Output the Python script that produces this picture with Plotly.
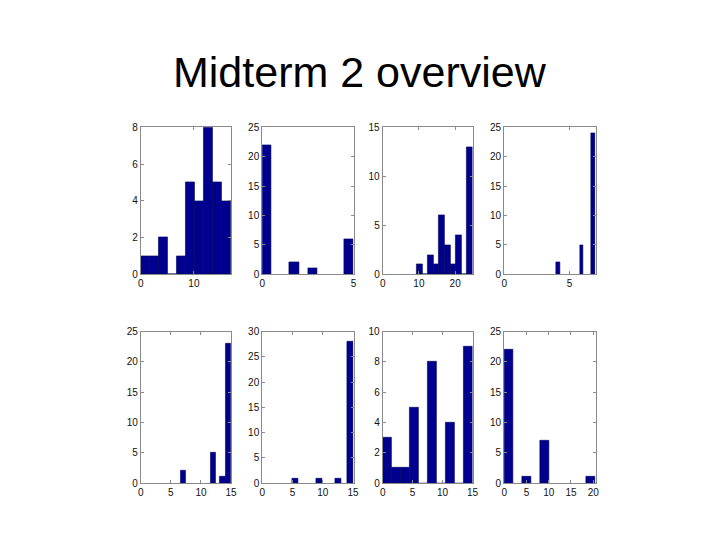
import plotly.graph_objects as go

TITLE = "Midterm 2 overview"

# --- histogram data (bin centres / counts / bin width) ---
p1_centers = [0.85, 2.55, 4.25, 5.95, 7.65, 9.35, 11.05, 12.75, 14.45, 16.15]
p1_counts = [1, 1, 2, 0, 1, 5, 4, 8, 5, 4]
p1_width = 1.7

p2_centers = [0.25, 1.75, 2.75, 4.75]
p2_counts = [22, 2, 1, 6]
p2_width = 0.5

p3_centers = [10.17, 11.71, 13.25, 14.79, 16.33, 17.87, 19.41, 20.95, 22.49, 24.03]
p3_counts = [1, 0, 2, 1, 6, 3, 1, 4, 0, 13]
p3_width = 1.54

p4_centers = [4.12, 5.95, 6.84]
p4_counts = [2, 5, 24]
p4_width = 0.28

p5_centers = [7.1, 12.0, 13.6, 14.5]
p5_counts = [2, 5, 1, 23]
p5_width = 0.9

p6_centers = [5.4, 9.5, 12.5, 14.55]
p6_counts = [1, 1, 1, 28]
p6_width = 1.0

p7_centers = [0.75, 2.25, 3.75, 5.25, 6.75, 8.25, 9.75, 11.25, 12.75, 14.25]
p7_counts = [3, 1, 1, 5, 0, 8, 0, 4, 0, 9]
p7_width = 1.5

p8_centers = [1.05, 5.0, 9.15, 19.45]
p8_counts = [22, 1, 7, 1]
p8_width = 2.05

# axis limits and ticks per panel
x_ranges = [[0, 17], [0, 5], [0, 24.8], [0, 7], [0, 15], [0, 15.1], [0, 15], [0, 20.5]]
x_ticks = [[0, 10], [0, 5], [0, 10, 20], [0, 5], [0, 5, 10, 15], [0, 5, 10, 15], [0, 5, 10, 15], [0, 5, 10, 15, 20]]
y_ranges = [[0, 8], [0, 25], [0, 15], [0, 25], [0, 25], [0, 30], [0, 10], [0, 25]]
y_dticks = [2, 5, 5, 5, 5, 5, 2, 5]

panels = [
    (p1_centers, p1_counts, p1_width),
    (p2_centers, p2_counts, p2_width),
    (p3_centers, p3_counts, p3_width),
    (p4_centers, p4_counts, p4_width),
    (p5_centers, p5_counts, p5_width),
    (p6_centers, p6_counts, p6_width),
    (p7_centers, p7_counts, p7_width),
    (p8_centers, p8_counts, p8_width),
]

W, H = 720, 540
col_px = [(139.5, 231), (262.5, 355), (384.5, 475.5), (507.5, 600)]
row_px = [(124, 274.5), (333, 488)]

BAR = "#00008F"
AXIS = "#8a8a8a"
tick_font = dict(family="Liberation Sans, Arial, sans-serif", size=10, color="#111111")

fig = go.Figure()
for i, (cx, cnt, w) in enumerate(panels):
    n = i + 1
    sfx = "" if n == 1 else str(n)
    fig.add_trace(
        go.Bar(
            x=cx,
            y=cnt,
            width=w,
            marker=dict(color=BAR, line=dict(color="#000055", width=0.6)),
            xaxis="x" + sfx,
            yaxis="y" + sfx,
            showlegend=False,
            hoverinfo="skip",
        )
    )
    x0, x1 = col_px[i % 4]
    top, bot = row_px[i // 4]
    common = dict(
        showline=True,
        linecolor=AXIS,
        linewidth=1,
        mirror="ticks",
        ticks="inside",
        ticklen=3,
        tickcolor=AXIS,
        showgrid=False,
        zeroline=False,
        tickfont=tick_font,
        fixedrange=True,
    )
    fig.layout["xaxis" + sfx] = dict(
        domain=[x0 / W, x1 / W],
        range=x_ranges[i],
        tickvals=x_ticks[i],
        anchor="y" + sfx,
        **common,
    )
    fig.layout["yaxis" + sfx] = dict(
        domain=[1 - bot / H, 1 - top / H],
        range=y_ranges[i],
        dtick=y_dticks[i],
        tick0=0,
        anchor="x" + sfx,
        **common,
    )

fig.add_annotation(
    text=TITLE,
    xref="paper",
    yref="paper",
    x=362 / W,
    y=1 - 67 / H,
    xanchor="center",
    yanchor="middle",
    showarrow=False,
    font=dict(family="Liberation Sans, Arial, sans-serif", size=43, color="#000000"),
)

fig.update_layout(
    width=W,
    height=H,
    margin=dict(l=0, r=0, t=0, b=0),
    paper_bgcolor="white",
    plot_bgcolor="white",
    bargap=0,
)

# drop the default page margin so the figure sits at the window origin
fig.write_html(
    "out.html",
    config={"displayModeBar": False},
    post_script="document.body.style.margin='0px';",
)
